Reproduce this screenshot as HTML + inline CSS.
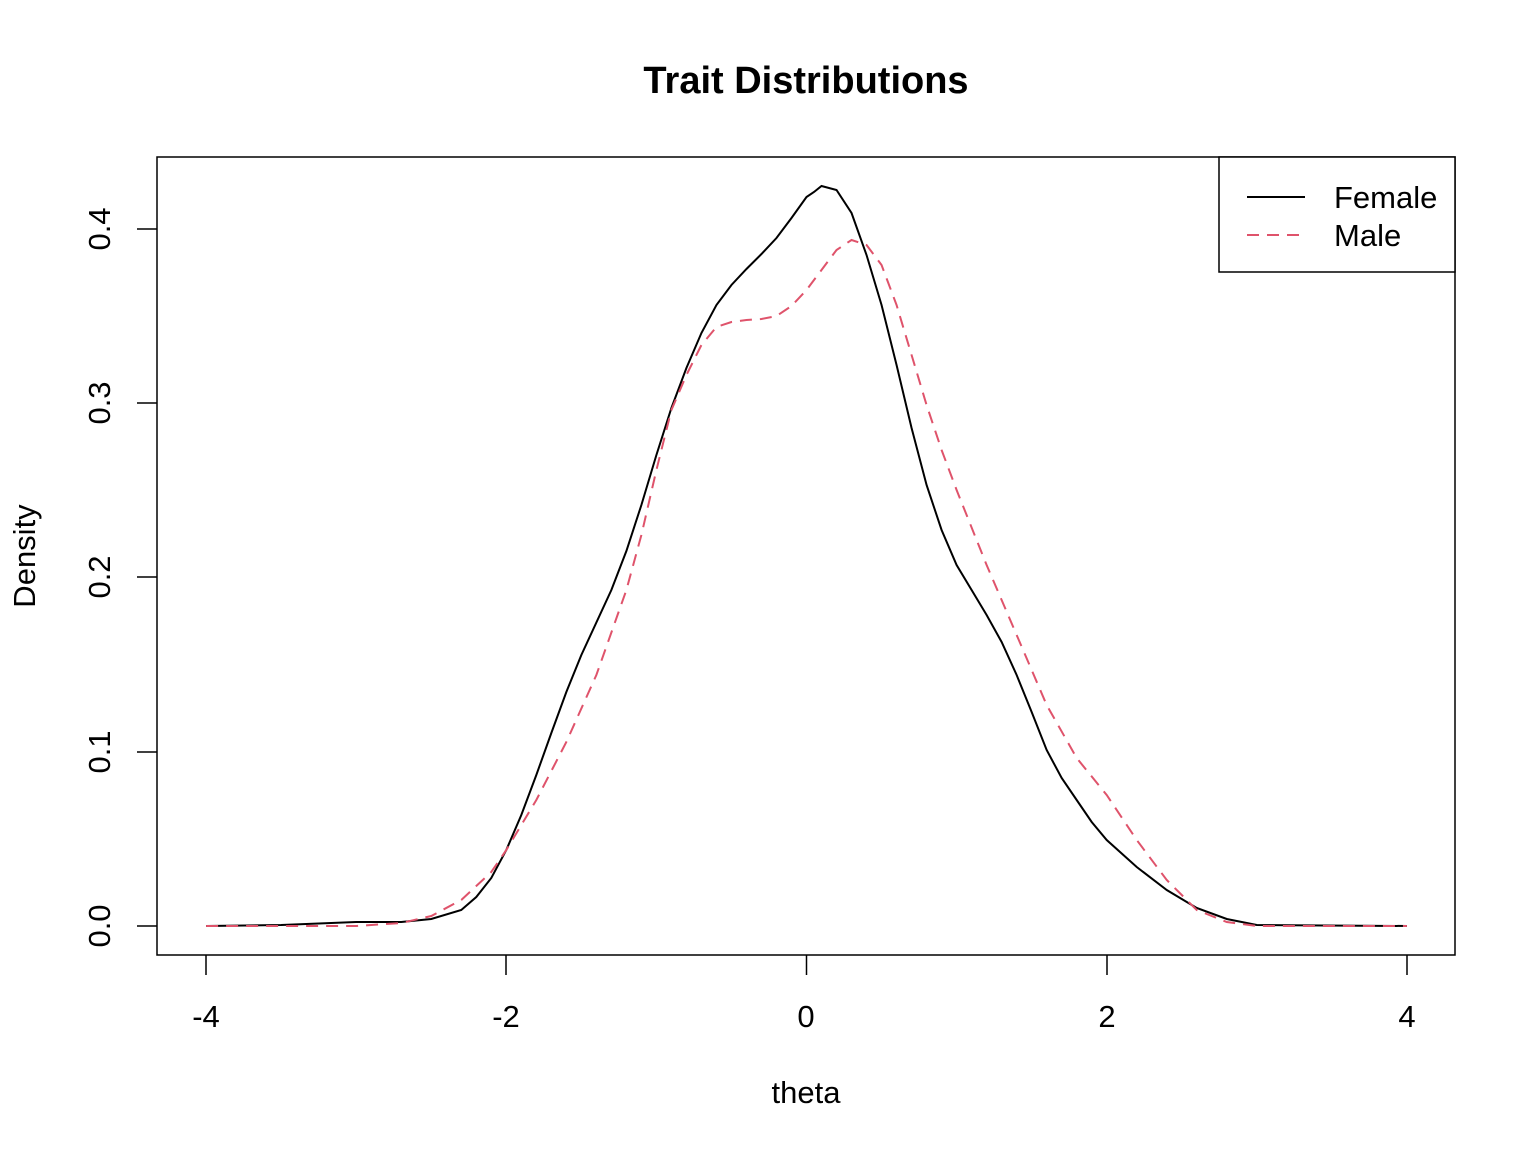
<!DOCTYPE html>
<html><head><style>
html,body{margin:0;padding:0;background:#fff;}
svg text{font-family:"Liberation Sans",Arial,sans-serif;}
</style></head><body>
<svg width="1536" height="1152" viewBox="0 0 1536 1152" xmlns="http://www.w3.org/2000/svg">
<rect width="1536" height="1152" fill="#fff"/>
<text x="806" y="93" font-size="38" font-weight="bold" text-anchor="middle">Trait Distributions</text>
<rect x="157" y="157" width="1298" height="798" fill="none" stroke="#000" stroke-width="1.5"/>
<g stroke="#000" stroke-width="1.5">
<line x1="206" y1="955" x2="206" y2="975"/>
<line x1="506" y1="955" x2="506" y2="975"/>
<line x1="806.5" y1="955" x2="806.5" y2="975"/>
<line x1="1107" y1="955" x2="1107" y2="975"/>
<line x1="1407" y1="955" x2="1407" y2="975"/>
</g>
<g font-size="31" text-anchor="middle">
<text x="206" y="1027">-4</text><text x="506" y="1027">-2</text><text x="806" y="1027">0</text><text x="1107" y="1027">2</text><text x="1407" y="1027">4</text>
<text x="806" y="1103">theta</text>
</g>
<g stroke="#000" stroke-width="1.5">
<line x1="137" y1="926" x2="157" y2="926"/>
<line x1="137" y1="752" x2="157" y2="752"/>
<line x1="137" y1="577" x2="157" y2="577"/>
<line x1="137" y1="403" x2="157" y2="403"/>
<line x1="137" y1="229" x2="157" y2="229"/>
</g>
<g font-size="31" text-anchor="middle">
<text transform="translate(110,926) rotate(-90)">0.0</text>
<text transform="translate(110,752) rotate(-90)">0.1</text>
<text transform="translate(110,577) rotate(-90)">0.2</text>
<text transform="translate(110,403) rotate(-90)">0.3</text>
<text transform="translate(110,229) rotate(-90)">0.4</text>
<text transform="translate(35,556) rotate(-90)">Density</text>
</g>
<g transform="translate(806.5,0) scale(150.1,1)">
<polyline fill="none" stroke="#000" stroke-width="2" vector-effect="non-scaling-stroke" points="-4,926 -3.5,925 -3,922 -2.7,922 -2.5,919 -2.3,910 -2.2,897 -2.1,878 -2,850 -1.9,815 -1.8,775 -1.7,733 -1.6,692 -1.5,655 -1.3,590 -1.2,551 -1.1,505 -1,455 -0.9,408 -0.8,368 -0.7,333 -0.6,305 -0.5,285 -0.4,269 -0.3,254 -0.2,238 -0.1,218 0,197 0.05,192 0.1,186 0.2,190 0.3,213 0.4,255 0.5,305 0.6,365 0.7,428 0.8,485 0.9,530 1,565 1.1,590 1.2,615 1.3,642 1.4,675 1.5,712 1.6,750 1.7,778 1.8,800 1.9,822 2,840 2.2,867 2.4,890 2.6,908 2.8,919 3,925 4,926"/>
<polyline fill="none" stroke="#DF536B" stroke-width="2" stroke-dasharray="12,8" vector-effect="non-scaling-stroke" points="-4,926 -3,926 -2.7,923 -2.5,916 -2.3,900 -2.1,872 -2,850 -1.8,800 -1.6,742 -1.4,675 -1.2,590 -1.1,535 -1,470 -0.9,410 -0.8,375 -0.7,345 -0.6,327 -0.5,322 -0.4,320 -0.3,319 -0.2,316 -0.1,306 0,290 0.1,270 0.2,250 0.3,240 0.4,245 0.5,265 0.6,305 0.7,355 0.8,405 0.9,450 1,490 1.2,565 1.4,635 1.6,705 1.8,758 2,795 2.2,840 2.4,880 2.6,910 2.8,922 3,926 4,926"/>
</g>
<rect x="1219" y="157" width="236" height="115" fill="#fff" stroke="#000" stroke-width="1.5"/>
<line x1="1247" y1="197" x2="1305" y2="197" stroke="#000" stroke-width="2"/>
<line x1="1247" y1="235" x2="1305" y2="235" stroke="#DF536B" stroke-width="2" stroke-dasharray="12,8"/>
<text x="1334" y="208" font-size="31">Female</text>
<text x="1334" y="246" font-size="31">Male</text>
</svg>
</body></html>
